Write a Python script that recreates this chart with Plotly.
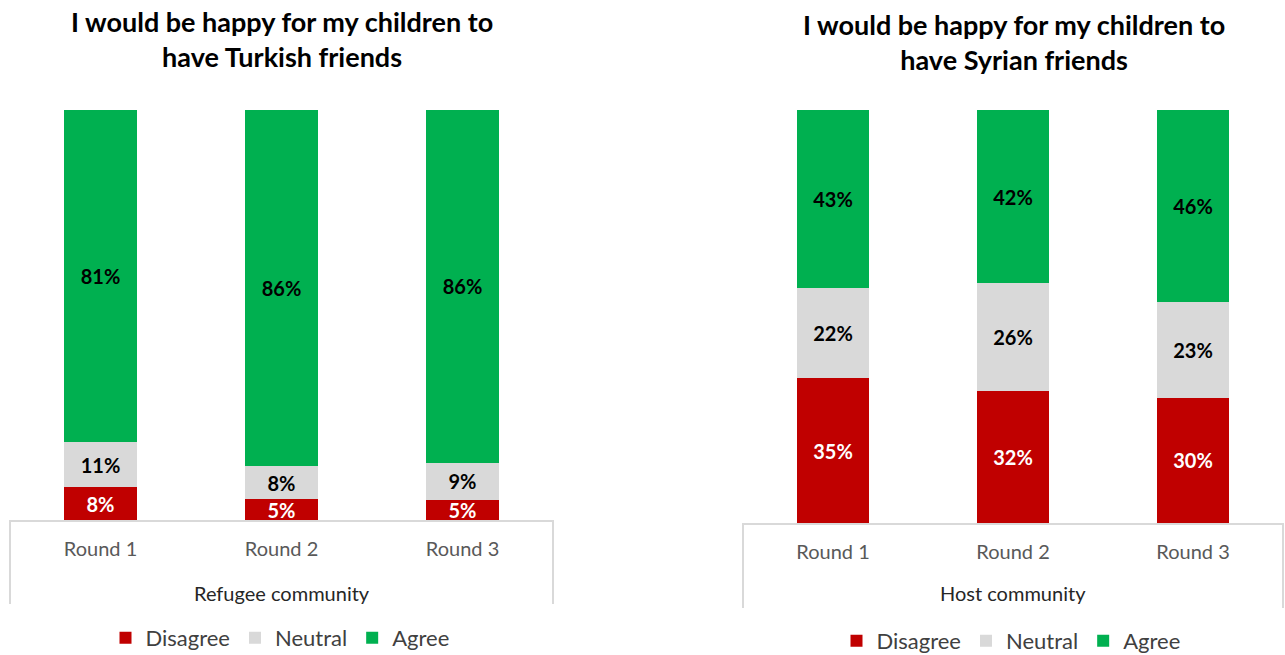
import plotly.graph_objects as go

# Survey rounds and answer shares (percent)
rounds = ["Round 1", "Round 2", "Round 3"]
answers = ["Disagree", "Neutral", "Agree"]

refugee_disagree = [8, 5, 5]
refugee_neutral = [11, 8, 9]
refugee_agree = [81, 86, 86]

host_disagree = [35, 32, 30]
host_neutral = [22, 26, 23]
host_agree = [43, 42, 46]

left_title = "I would be happy for my children to<br>have Turkish friends"
right_title = "I would be happy for my children to<br>have Syrian friends"
left_group = "Refugee community"
right_group = "Host community"

colors = {"Disagree": "#C00000", "Neutral": "#D9D9D9", "Agree": "#00B050"}
text_colors = {"Disagree": "#FFFFFF", "Neutral": "#000000", "Agree": "#000000"}

FONT = "Lato"
W, H = 1285, 655

fig = go.Figure()

panels = [
    ("x", "y", "legend", [refugee_disagree, refugee_neutral, refugee_agree]),
    ("x2", "y2", "legend2", [host_disagree, host_neutral, host_agree]),
]

for xa, ya, lg, series in panels:
    for name, vals in zip(answers, series):
        fig.add_trace(go.Bar(
            x=rounds, y=vals, name=name,
            xaxis=xa, yaxis=ya, legend=lg,
            marker=dict(color=colors[name], line=dict(width=0)),
            width=0.4,
            text=[f"{v}%" for v in vals],
            textposition="inside", insidetextanchor="middle",
            constraintext="none",
            textfont=dict(family=FONT, size=20, color=text_colors[name], weight="bold"),
            hoverinfo="skip",
        ))

# pixel helpers for panel placement
def px_x(p):
    return p / W

def px_y(p):
    return 1 - p / H

left_dom = [px_x(10), px_x(553)]
right_dom = [px_x(743), px_x(1283)]

axis_common = dict(
    showline=True, linecolor="#D9D9D9", linewidth=2,
    showgrid=False, zeroline=False, ticks="",
    tickfont=dict(family=FONT, size=20, color="#595959"),
    ticklabelstandoff=10, fixedrange=True,
)

legend_common = dict(
    orientation="h", yanchor="middle", xanchor="center",
    font=dict(family=FONT, size=22, color="#404040"), traceorder="normal",
    itemclick=False, itemdoubleclick=False, bgcolor="rgba(0,0,0,0)",
)

fig.update_layout(
    width=W, height=H,
    margin=dict(l=0, r=0, t=0, b=0, autoexpand=False),
    paper_bgcolor="white", plot_bgcolor="white",
    barmode="stack", barnorm="percent",
    showlegend=True,
    xaxis=dict(domain=left_dom, anchor="y", **axis_common),
    xaxis2=dict(domain=right_dom, anchor="y2", **axis_common),
    yaxis=dict(domain=[px_y(520), px_y(110)], range=[0, 100], visible=False, fixedrange=True),
    yaxis2=dict(domain=[px_y(523), px_y(110)], range=[0, 100], visible=False, fixedrange=True),
    legend=dict(x=px_x(280), y=px_y(638), **legend_common),
    legend2=dict(x=px_x(1011), y=px_y(641), **legend_common),
)

# titles and group labels
fig.add_annotation(text=left_title, x=px_x(282), y=px_y(39), xref="paper", yref="paper",
                   showarrow=False, xanchor="center", yanchor="middle",
                   font=dict(family=FONT, size=27, color="#000000", weight="bold"))
fig.add_annotation(text=right_title, x=px_x(1014), y=px_y(42), xref="paper", yref="paper",
                   showarrow=False, xanchor="center", yanchor="middle",
                   font=dict(family=FONT, size=27, color="#000000", weight="bold"))
fig.add_annotation(text=left_group, x=0.5, y=px_y(593), xref="x domain", yref="paper",
                   showarrow=False, xanchor="center", yanchor="middle",
                   font=dict(family=FONT, size=20, color="#262626"))
fig.add_annotation(text=right_group, x=0.5, y=px_y(593), xref="x2 domain", yref="paper",
                   showarrow=False, xanchor="center", yanchor="middle",
                   font=dict(family=FONT, size=20, color="#262626"))

# side borders of the category boxes
for x0, top, bottom in [(10, 520, 604), (553, 520, 604), (743, 523, 608), (1283, 523, 608)]:
    fig.add_shape(type="line", xref="paper", yref="paper",
                  x0=px_x(x0), x1=px_x(x0), y0=px_y(top), y1=px_y(bottom),
                  line=dict(color="#D9D9D9", width=2))

fig.write_html("out.html")
